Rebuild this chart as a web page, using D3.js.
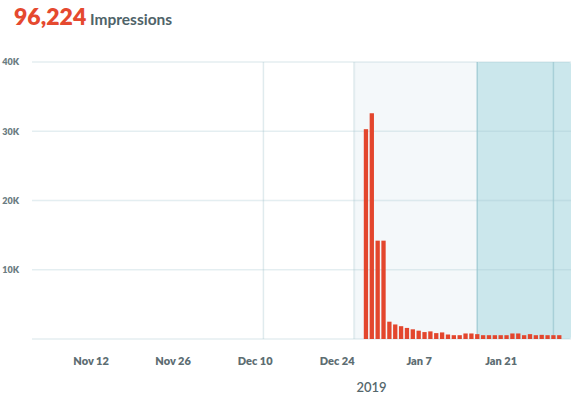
<!DOCTYPE html>
<html>
<head>
<meta charset="utf-8">
<script src="https://cdn.jsdelivr.net/npm/d3@7"></script>
<style>
  html, body { margin: 0; padding: 0; background: #fff; }
  svg { display: block; font-family: Lato, "Open Sans", sans-serif; }
</style>
</head>
<body>
<svg id="chart" width="574" height="398"></svg>
<script>
// ---------- data ----------
const totalLabel = "96,224";
const metricLabel = "Impressions";
const yearLabel = "2019";

const dates = [
  "2018-12-29","2018-12-30","2018-12-31","2019-01-01","2019-01-02","2019-01-03","2019-01-04",
  "2019-01-05","2019-01-06","2019-01-07","2019-01-08","2019-01-09","2019-01-10","2019-01-11",
  "2019-01-12","2019-01-13","2019-01-14","2019-01-15","2019-01-16","2019-01-17","2019-01-18",
  "2019-01-19","2019-01-20","2019-01-21","2019-01-22","2019-01-23","2019-01-24","2019-01-25",
  "2019-01-26","2019-01-27","2019-01-28","2019-01-29","2019-01-30","2019-01-31"
];
const impressions = [
  30300, 32600, 14200, 14200, 2500, 2100, 1850,
  1600, 1400, 1200, 1000, 1100, 850, 950,
  650, 550, 550, 800, 800, 700, 550,
  550, 550, 550, 550, 800, 800, 550,
  700, 550, 600, 550, 550, 550
];

const xTickDates = ["2018-11-12","2018-11-26","2018-12-10","2018-12-24","2019-01-07","2019-01-21"];
const yTickValues = [10000, 20000, 30000, 40000];
const yTickLabels = ["10K", "20K", "30K", "40K"];
const gridValues = [0, 10000, 20000, 30000, 40000];

const xDomain = ["2018-11-02", "2019-02-02"];
const lightRange = ["2018-12-27", "2019-01-17"];
const darkStart = "2019-01-17";
const markerLines = ["2018-12-11T12:00", "2019-01-30"];

// ---------- setup ----------
const parse = s => new Date(s.length > 10 ? s : s + "T00:00");
const svg = d3.select("#chart");

const mLeft = 32, mRight = 571, mTop = 62, mBottom = 339;
const x = d3.scaleTime().domain(xDomain.map(parse)).range([mLeft, mRight]);
const y = d3.scaleLinear().domain([0, 40000]).range([mBottom, mTop]);

// title
const title = svg.append("text").attr("x", 14).attr("y", 25);
title.append("tspan").text(totalLabel)
  .attr("font-size", 23).attr("font-weight", 800).attr("fill", "#e5492f");
title.append("tspan").text(" " + metricLabel)
  .attr("font-size", 15.5).attr("font-weight", 700).attr("fill", "#4f6369");

// shaded regions
svg.append("rect")
  .attr("x", x(parse(lightRange[0])))
  .attr("y", mTop)
  .attr("width", x(parse(lightRange[1])) - x(parse(lightRange[0])))
  .attr("height", mBottom - mTop)
  .attr("fill", "#f4f8fa");
svg.append("rect")
  .attr("x", x(parse(darkStart)))
  .attr("y", mTop)
  .attr("width", mRight - x(parse(darkStart)))
  .attr("height", mBottom - mTop)
  .attr("rx", 2)
  .attr("fill", "#cbe7ec");

// region borders
svg.append("line")
  .attr("x1", x(parse(lightRange[0]))).attr("x2", x(parse(lightRange[0])))
  .attr("y1", mTop).attr("y2", mBottom)
  .attr("stroke", "#e2ecef").attr("stroke-width", 2);
svg.append("line")
  .attr("x1", x(parse(darkStart))).attr("x2", x(parse(darkStart)))
  .attr("y1", mTop).attr("y2", mBottom)
  .attr("stroke", "#a8d0d8").attr("stroke-width", 1.5);

// marker lines
svg.selectAll(".marker").data(markerLines).join("line")
  .attr("class", "marker")
  .attr("x1", d => x(parse(d))).attr("x2", d => x(parse(d)))
  .attr("y1", mTop).attr("y2", mBottom)
  .attr("stroke", (d, i) => i === 0 ? "#e0ebee" : "#a8d0d8")
  .attr("stroke-width", 1.5);

// gridlines
svg.selectAll(".grid").data(gridValues).join("line")
  .attr("class", "grid")
  .attr("x1", mLeft).attr("x2", mRight)
  .attr("y1", d => y(d)).attr("y2", d => y(d))
  .attr("stroke", "#9fc3cc").attr("stroke-opacity", 0.28).attr("stroke-width", 1.5);

// y axis labels
const yAxis = d3.axisLeft(y).tickValues(yTickValues)
  .tickFormat((d, i) => yTickLabels[i]).tickSize(0).tickPadding(0);
svg.append("g").attr("transform", "translate(19,0)").call(yAxis)
  .call(g => g.select(".domain").remove())
  .call(g => g.selectAll("text")
    .attr("font-family", "Lato, sans-serif")
    .attr("font-size", 9).attr("font-weight", 800).attr("fill", "#6b7c82"));

// bars
const barW = 4.3;
svg.selectAll(".bar").data(dates.map((d, i) => ({ d: parse(d), v: impressions[i] }))).join("rect")
  .attr("class", "bar")
  .attr("x", d => x(d.d) - barW / 2)
  .attr("y", d => y(d.v))
  .attr("width", barW)
  .attr("height", d => mBottom - y(d.v))
  .attr("fill", "#e3462d");

// x axis labels
const xAxis = d3.axisBottom(x).tickValues(xTickDates.map(parse))
  .tickFormat(d3.timeFormat("%b %-d")).tickSize(0).tickPadding(0);
svg.append("g").attr("transform", "translate(0,357)").call(xAxis)
  .call(g => g.select(".domain").remove())
  .call(g => g.selectAll("text")
    .attr("font-family", "Lato, sans-serif")
    .attr("font-size", 11).attr("font-weight", 800).attr("fill", "#5d6d72"));

// year label
svg.append("text").attr("x", 371.5).attr("y", 392)
  .attr("text-anchor", "middle")
  .attr("font-size", 13).attr("font-weight", 600).attr("fill", "#56676c")
  .text(yearLabel);
</script>
</body>
</html>
